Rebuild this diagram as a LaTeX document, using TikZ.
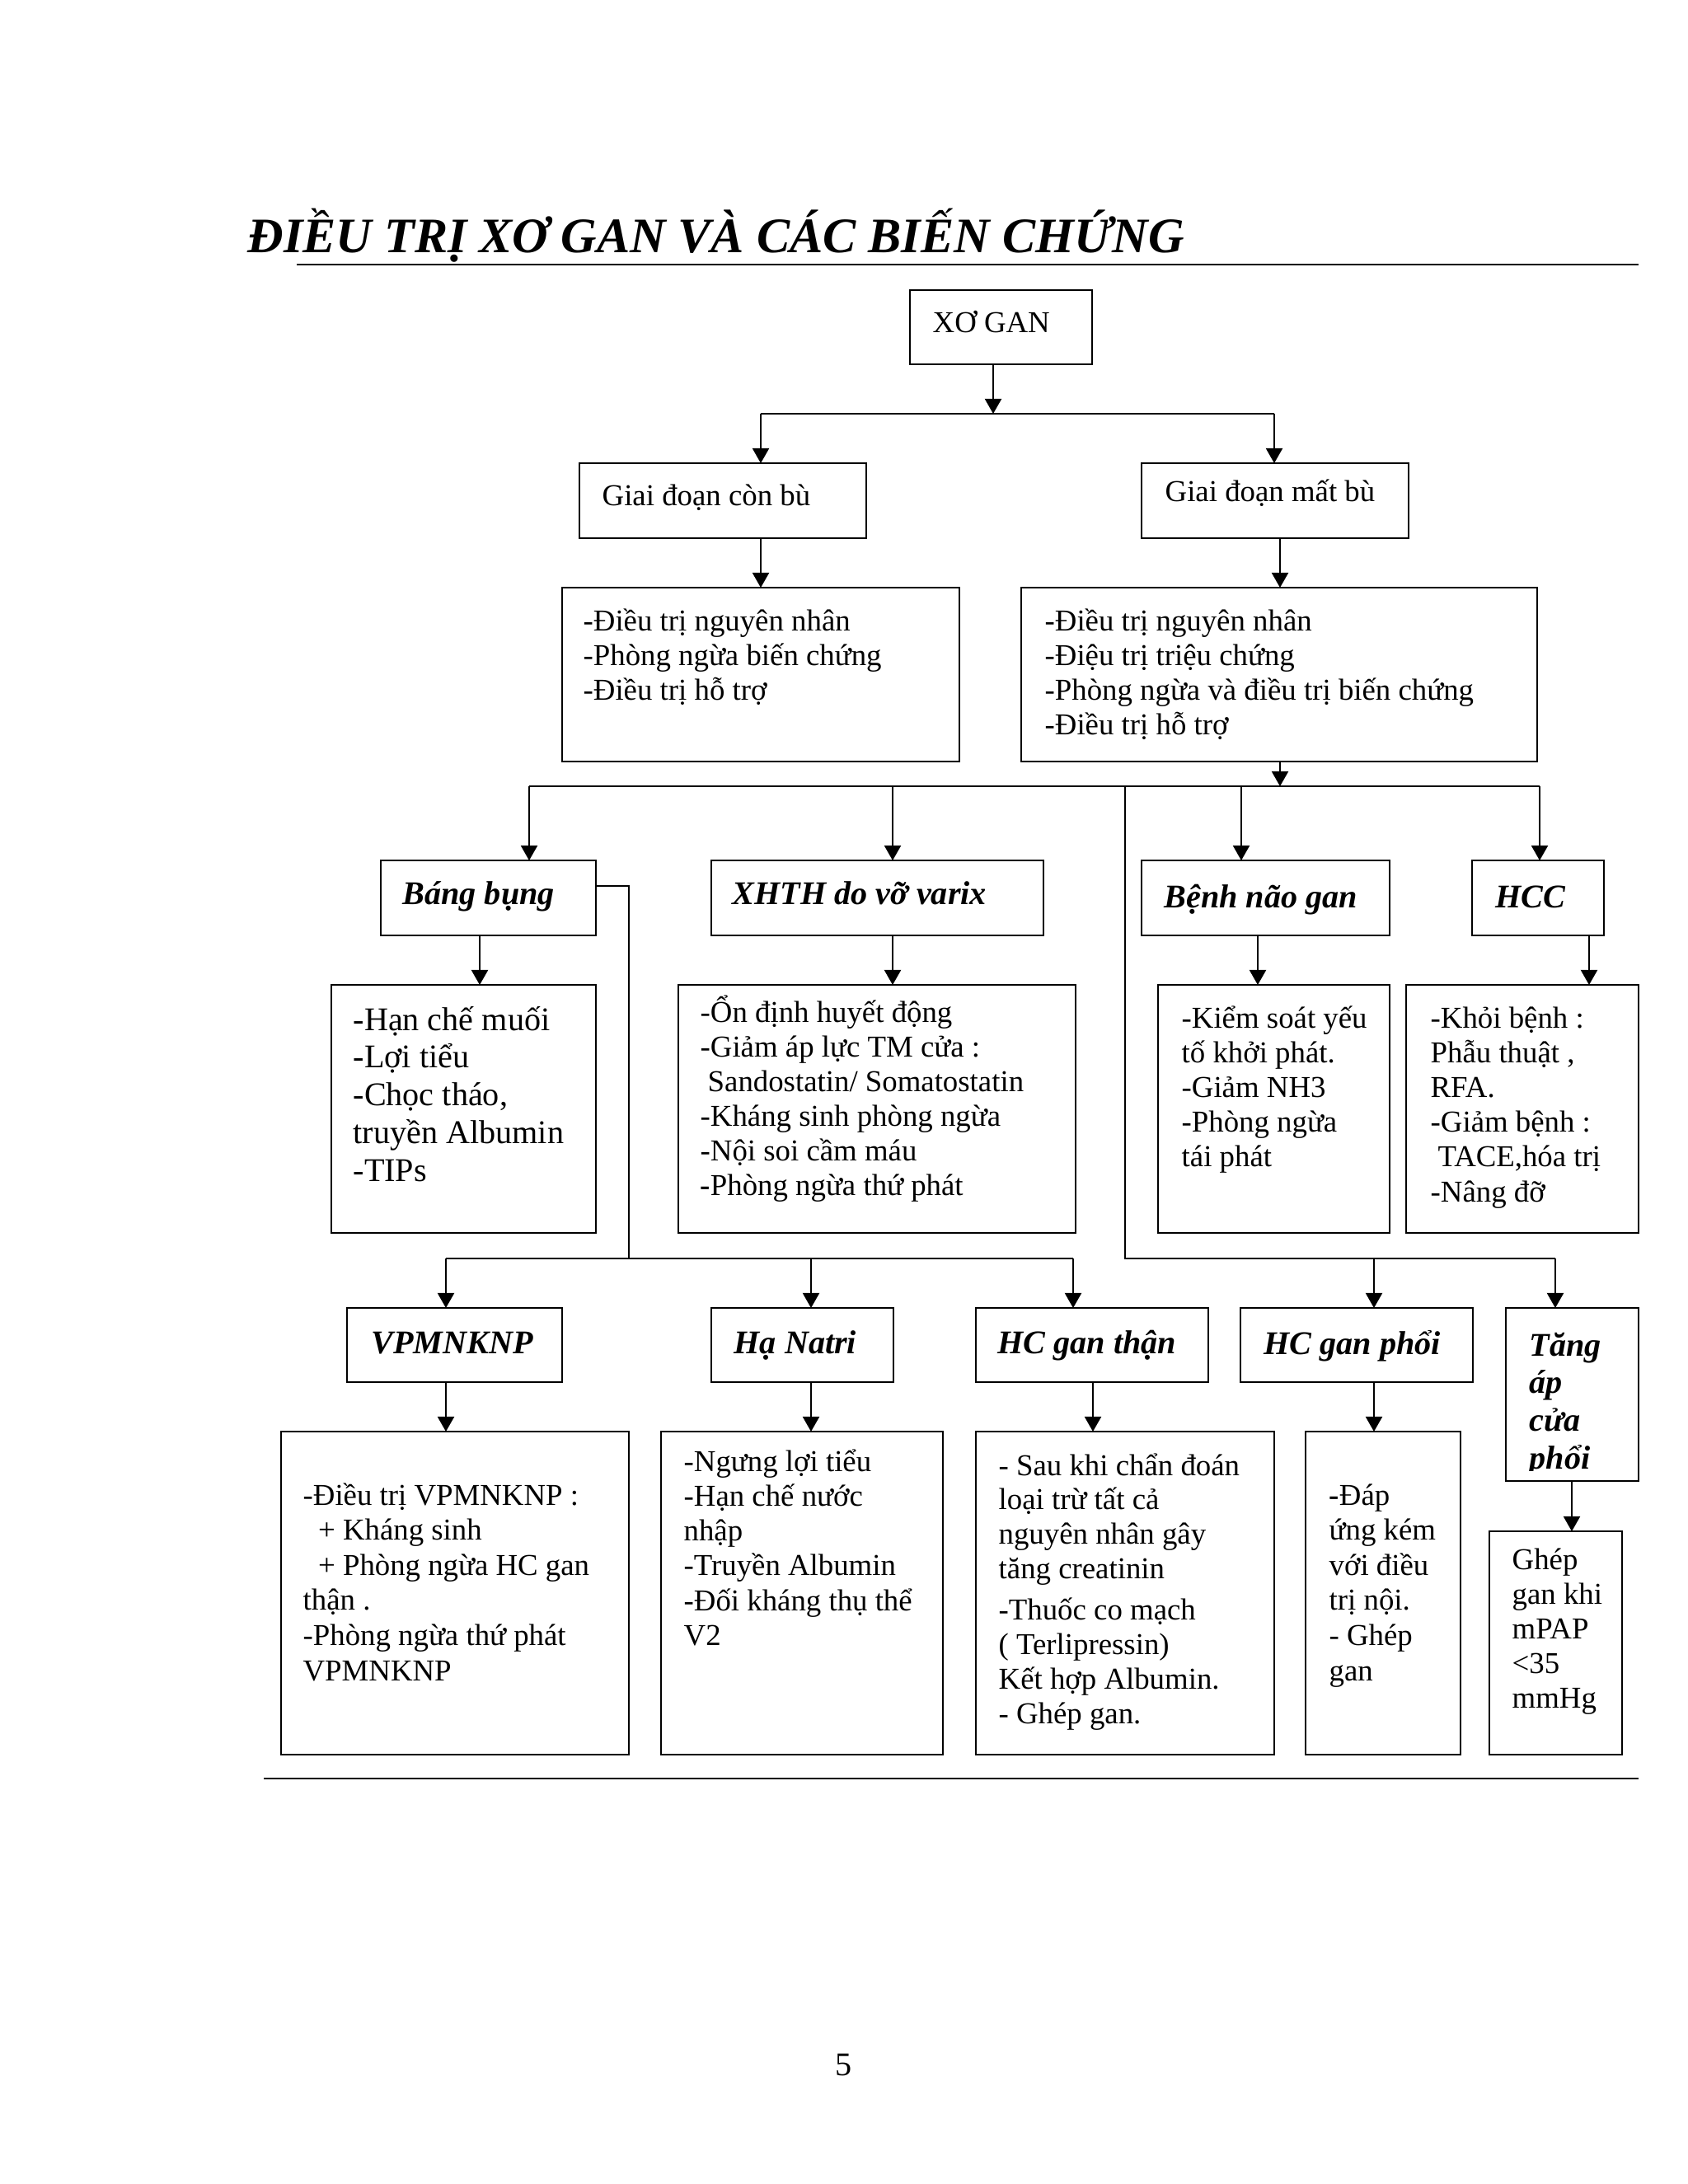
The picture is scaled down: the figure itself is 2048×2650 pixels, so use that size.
\documentclass[tikz,border=0pt]{standalone}
\usepackage{fontspec}
\setmainfont{Liberation Serif}
\usetikzlibrary{arrows.meta}

\def\px{0.29883pt}
% box from pixel corners: name, x1, y1, x2, y2
\newcommand\pbox[5]{\node[box, minimum width={(#4-#2)*\px}, minimum height={(#5-#3)*\px}] (#1) at ({(#2+#4)/2},{(#3+#5)/2}) {};}
% lines of text: name, style, x, first baseline, pitch, list
\newcommand\plines[6]{\foreach \s [count=\i from 0] in {#6} {\node[#2] (#1\i) at (#3,{#4+\i*#5}) {\s};}}

\tikzset{
    box/.style={draw, line width=0.55pt, inner sep=0pt, outer sep=0pt},
    txt/.style={anchor=base west, inner sep=0pt, font=\fontsize{11}{13}\selectfont},
    bigtxt/.style={txt, font=\fontsize{12}{14}\selectfont},
    hdr/.style={txt, font=\fontsize{12}{14}\selectfont\bfseries\itshape},
    ln/.style={line width=0.55pt},
    arr/.style={ln, -{Triangle[length=5.4pt,width=6pt]}},
}

\begin{document}
\begin{tikzpicture}[x=0.29883pt, y=-0.29883pt]
    \fill[white] (0,0) rectangle (2048,2650);
    \useasboundingbox (0,0) rectangle (2048,2650);

    % title and rules
    \node[anchor=base west, inner sep=0pt, font=\fontsize{18}{22}\selectfont\bfseries\itshape] (title) at (300,306) {ĐIỀU TRỊ XƠ GAN VÀ CÁC BIẾN CHỨNG};
    \draw[ln] (360,321) -- (1988,321);
    \draw[ln] (320,2158) -- (1988,2158);
    \node[txt, font=\fontsize{12}{14}\selectfont] (page) at (1013,2518) {5};

    % boxes
    \pbox{xogan}{1104}{352}{1325}{442}
    \pbox{gdcon}{703}{562}{1051}{653}
    \pbox{gdmat}{1385}{562}{1709}{653}
    \pbox{ttcon}{682}{713}{1164}{924}
    \pbox{ttmat}{1239}{713}{1865}{924}

    \pbox{bang}{462}{1044}{723}{1135}
    \pbox{xhth}{863}{1044}{1266}{1135}
    \pbox{benh}{1385}{1044}{1686}{1135}
    \pbox{hcc}{1786}{1044}{1946}{1135}
    \pbox{bangd}{402}{1195}{723}{1496}
    \pbox{xhthd}{823}{1195}{1305}{1496}
    \pbox{benhd}{1405}{1195}{1686}{1496}
    \pbox{hccd}{1706}{1195}{1988}{1496}

    \pbox{vpm}{421}{1587}{682}{1677}
    \pbox{hana}{863}{1587}{1084}{1677}
    \pbox{hcthan}{1184}{1587}{1466}{1677}
    \pbox{hcphoi}{1505}{1587}{1787}{1677}
    \pbox{tangap}{1827}{1587}{1988}{1797}
    \pbox{vpmd}{341}{1737}{763}{2129}
    \pbox{hanad}{802}{1737}{1144}{2129}
    \pbox{hcthand}{1184}{1737}{1546}{2129}
    \pbox{hcphoid}{1584}{1737}{1772}{2129}
    \pbox{ghep}{1807}{1858}{1968}{2129}

    % texts
    \node[txt] (xogant) at (1131,403) {XƠ GAN};
    \node[txt] (gdcont) at (730,613) {Giai đoạn còn bù};
    \node[txt] (gdmatt) at (1413,608) {Giai đoạn mất bù};
    \plines{ttcont}{txt}{707}{765}{42}{-Điều trị nguyên nhân, -Phòng ngừa biến chứng, -Điều trị hỗ trợ}
    \plines{ttmatt}{txt}{1267}{765}{42}{-Điều trị nguyên nhân, -Điệu trị triệu chứng, -Phòng ngừa và điều trị biến chứng, -Điều trị hỗ trợ}

    \node[hdr] (bangt) at (488,1097) {Báng bụng};
    \node[hdr] (xhtht) at (888,1097) {XHTH do vỡ varix};
    \node[hdr] (benht) at (1412,1101) {Bệnh não gan};
    \node[hdr] (hcct) at (1814,1101) {HCC};
    \plines{bangdt}{bigtxt}{428}{1250}{45.8}{-Hạn chế muối, -Lợi tiểu, {-Chọc tháo,}, truyền Albumin, -TIPs}
    \plines{xhthdt}{txt}{849}{1240}{42}{-Ổn định huyết động, -Giảm áp lực TM cửa :, \hspace*{2.7pt}Sandostatin/ Somatostatin, -Kháng sinh phòng ngừa, -Nội soi cầm máu, \textbf{-}Phòng ngừa thứ phát}
    \plines{benhdt}{txt}{1433}{1247}{42}{-Kiểm soát yếu, tố khởi phát., -Giảm NH3, -Phòng ngừa, tái phát}
    \plines{hccdt}{txt}{1735}{1247}{42.2}{-Khỏi bệnh :, {Phẫu thuật ,}, RFA., -Giảm bệnh :, {\hspace*{2.7pt}TACE,hóa trị}, -Nâng đỡ}

    \node[hdr] (vpmt) at (450,1642) {VPMNKNP};
    \node[hdr] (hanat) at (890,1642) {Hạ Natri};
    \node[hdr] (hcthant) at (1210,1642) {HC gan thận};
    \node[hdr] (hcphoit) at (1533,1643) {HC gan phổi};
    \begin{scope}
        \clip (1827,1587) rectangle (1988,1784);
        \plines{tangapt}{hdr}{1855}{1645}{45.7}{Tăng, áp, cửa, phổi}
    \end{scope}
    \plines{vpmdt}{txt}{367}{1826}{42.6}{-Điều trị VPMNKNP :, \hspace*{5.5pt}+ Kháng sinh, \hspace*{5.5pt}+ Phòng ngừa HC gan, thận ., -Phòng ngừa thứ phát, VPMNKNP}
    \plines{hanadt}{txt}{829}{1785}{42.3}{-Ngưng lợi tiểu, -Hạn chế nước, nhập, -Truyền Albumin, -Đối kháng thụ thể, V2}
    \plines{hcthandt}{txt}{1211}{1790}{41.7}{- Sau khi chẩn đoán, loại trừ tất cả, nguyên nhân gây, tăng creatinin}
    \plines{hcthandu}{txt}{1211}{1965}{42.3}{-Thuốc co mạch, ( Terlipressin), Kết hợp Albumin., - Ghép gan.}
    \plines{hcphoidt}{txt}{1612}{1826}{42.6}{\textbf{-}Đáp, ứng kém, với điều, trị nội., - Ghép, gan}
    \plines{ghept}{txt}{1834}{1904}{42.2}{Ghép, gan khi, mPAP, <35, mmHg}

    % top connectors
    \coordinate (bA) at (1205,502);
    \coordinate (bL) at (923,502);
    \coordinate (bR) at (1546,502);
    \coordinate (cR) at (1553,954);
    \draw[arr] (bA |- xogan.south) -- (bA);
    \draw[ln] (bL) -- (bR);
    \draw[arr] (bL) -- (bL |- gdcon.north);
    \draw[arr] (bR) -- (bR |- gdmat.north);
    \draw[arr] (bL |- gdcon.south) -- (bL |- ttcon.north);
    \draw[arr] (cR |- gdmat.south) -- (cR |- ttmat.north);
    \draw[arr] (cR |- ttmat.south) -- (cR);

    % complications bus
    \coordinate (b2L) at (642,954);
    \coordinate (b2R) at (1868,954);
    \coordinate (b2M) at (1365,954);
    \draw[ln] (b2L) -- (b2R);
    \foreach \x/\n in {642/bang, 1083/xhth, 1506/benh, 1868/hcc} {
        \coordinate (t) at (\x,954);
        \draw[arr] (t) -- (t |- \n.north);
    }
    \foreach \x/\a/\b in {582/bang/bangd, 1083/xhth/xhthd, 1526/benh/benhd, 1928/hcc/hccd} {
        \coordinate (t) at (\x,0);
        \draw[arr] (t |- \a.south) -- (t |- \b.north);
    }

    % lower buses
    \coordinate (k1) at (763,1075);
    \coordinate (b3L) at (541,1527);
    \coordinate (b3M) at (1302,1527);
    \coordinate (b3R) at (1887,1527);
    \draw[ln] (k1 -| bang.east) -- (k1) -- (k1 |- b3L);
    \draw[ln] (b3L) -- (b3M);
    \draw[ln] (b2M) -- (b2M |- b3R) -- (b3R);
    \foreach \x/\n in {541/vpm, 984/hana, 1302/hcthan, 1667/hcphoi, 1887/tangap} {
        \coordinate (t) at (\x,1527);
        \draw[arr] (t) -- (t |- \n.north);
    }
    \foreach \x/\a/\b in {541/vpm/vpmd, 984/hana/hanad, 1326/hcthan/hcthand, 1667/hcphoi/hcphoid, 1907/tangap/ghep} {
        \coordinate (t) at (\x,0);
        \draw[arr] (t |- \a.south) -- (t |- \b.north);
    }
\end{tikzpicture}
\end{document}
